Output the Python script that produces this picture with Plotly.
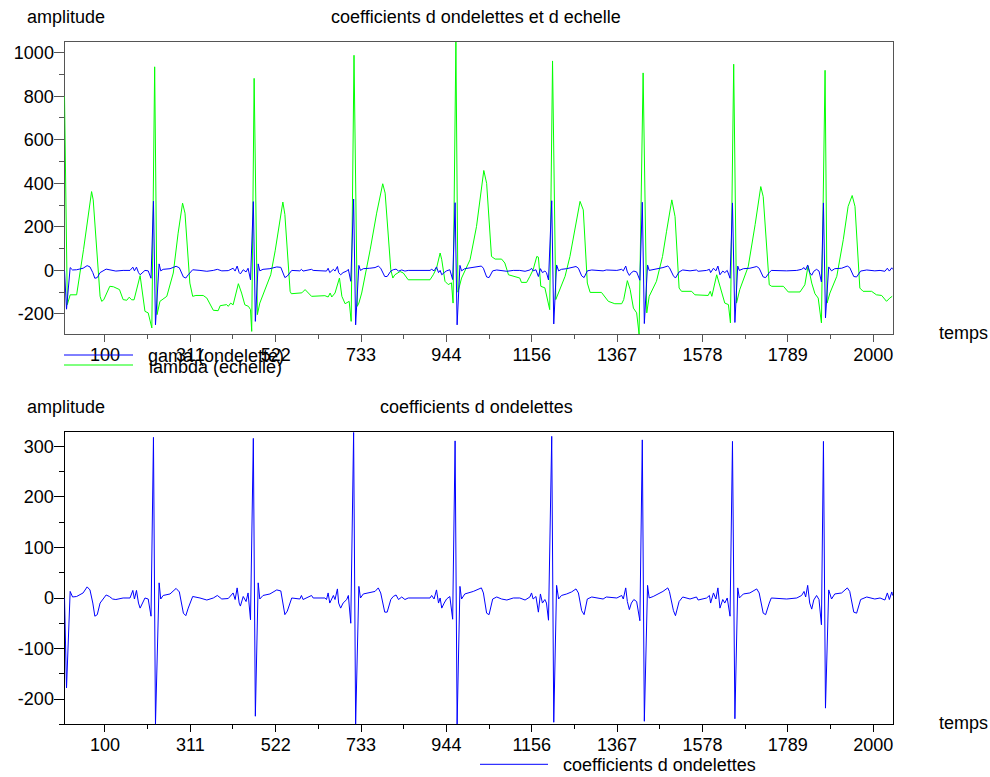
import plotly.graph_objects as go

# Wavelet (gama) coefficients: time samples and amplitudes
gama_t = [0, 5, 14, 20, 30, 46, 56, 63, 70, 75, 81, 88, 103, 111, 119, 127, 145, 162, 169, 173,
          178, 183, 187, 193, 199, 207, 214, 220, 225, 234, 238, 244, 261, 276, 284, 294, 300, 306,
          317, 335, 352, 368, 378, 389, 405, 417, 422, 427, 432, 435, 442, 449, 454, 460, 467, 472,
          479, 483, 491, 508, 525, 535, 545, 551, 562, 582, 586, 590, 611, 615, 644, 648, 652, 656,
          665, 669, 675, 678, 683, 689, 698, 702, 708, 715, 720, 728, 732, 739, 755, 768, 776, 782,
          792, 798, 807, 813, 820, 826, 834, 842, 850, 904, 908, 914, 920, 925, 929, 933, 939, 945,
          953, 960, 966, 971, 978, 982, 990, 1011, 1031, 1036, 1044, 1050, 1059, 1069, 1081, 1094,
          1110, 1126, 1139, 1151, 1155, 1159, 1166, 1172, 1177, 1182, 1188, 1192, 1197, 1205, 1210,
          1217, 1222, 1229, 1242, 1254, 1265, 1271, 1279, 1285, 1293, 1304, 1332, 1340, 1366, 1378,
          1382, 1388, 1392, 1397, 1402, 1408, 1415, 1423, 1429, 1434, 1442, 1446, 1456, 1468, 1480,
          1492, 1496, 1506, 1511, 1520, 1529, 1547, 1563, 1567, 1588, 1595, 1598, 1605, 1611, 1616,
          1621, 1628, 1633, 1639, 1646, 1652, 1658, 1665, 1669, 1679, 1695, 1712, 1718, 1728, 1734,
          1743, 1748, 1786, 1811, 1823, 1829, 1833, 1838, 1843, 1848, 1853, 1860, 1866, 1872, 1877,
          1882, 1890, 1897, 1905, 1922, 1936, 1942, 1952, 1959, 1969, 1984, 2004, 2017, 2029, 2035,
          2040, 2046, 2048]
gama_v = [0, -178, 13, 2, 3, 10, 22, 16, -10, -36, -33, -10, 6, 3, -2, -3, 0, 0, 15, -2,
          15, -10, -20, -10, 0, -2, -36, 318, -250, 30, -2, 5, 8, 19, 12, -30, -35, -20,
          3, 0, -4, 0, 5, -2, -1, 10, -3, 20, -10, -16, 3, -7, 10, -43, 316, -234,
          30, -2, 5, 8, 16, 14, -33, -26, 0, -2, 5, -3, 5, 0, 0, -3, 10, -10,
          5, -3, 18, -10, -20, -10, -3, 5, -50, 328, -250, 23, 0, 8, 10, 13, 20, 10,
          -28, -28, -3, 3, 6, -3, 2, -3, 0, 0, 5, -2, 16, -10, 0, -20, -10, -2,
          3, -42, 311, -250, 23, -2, 8, 13, 20, 10, -30, -33, -2, 2, -2, -4,
          0, 0, -4, 2, 10, -2, 3, -28, 8, -10, -3, -10, -44, 320, -246,
          25, -2, 5, 8, 12, 18, 10, -25, -33, -2, 2, -2, 2, 0, 5,
          -2, 20, -7, -23, -10, -3, -7, -45, 313, -244, 25, 0, 3, 8, 13,
          20, 13, -25, -35, -7, 2, -2, 2, -4, 0, 5, -10, 10, -2, 20,
          -20, -3, -10, 0, -36, 310, -239, 20, 0, 8, 10, 18, 10, -30, -33,
          -10, 0, -2, 0, 5, 13, 2, 25, -10, -22, -4, 5, -3, -53, 310,
          -218, 16, -2, 8, 10, 20, 13, -28, -30, -3, 2, -2, 0, -4, 10,
          -3, 12, 5]

# Scale (lambda) coefficients: time samples and amplitudes
lambda_t = [0, 7, 14, 30, 47, 67, 71, 88, 92, 97, 112, 121, 136, 145, 154, 160, 166, 172, 187, 199,
            207, 216, 223, 229, 236, 253, 269, 281, 292, 298, 310, 317, 325, 343, 352, 368, 380, 385,
            401, 405, 411, 417, 430, 438, 446, 455, 460, 463, 469, 477, 483, 500, 510, 521, 540, 545,
            558, 561, 587, 595, 611, 644, 652, 657, 661, 669, 680, 686, 694, 704, 709, 716, 724, 728,
            735, 756, 772, 787, 793, 807, 812, 817, 830, 838, 850, 904, 912, 920, 929, 933, 941, 949,
            957, 961, 968, 973, 982, 1003, 1019, 1037, 1044, 1056, 1065, 1081, 1089, 1098, 1110, 1126,
            1130, 1143, 1151, 1159, 1168, 1172, 1178, 1188, 1200, 1207, 1215, 1221, 1238, 1250, 1262,
            1275, 1283, 1293, 1300, 1328, 1345, 1361, 1378, 1383, 1392, 1399, 1407, 1415, 1421, 1431,
            1440, 1446, 1464, 1479, 1489, 1502, 1510, 1520, 1526, 1551, 1559, 1592, 1597, 1601, 1613,
            1621, 1633, 1642, 1647, 1655, 1662, 1670, 1691, 1708, 1722, 1728, 1743, 1749, 1778, 1790,
            1819, 1831, 1839, 1848, 1856, 1864, 1872, 1881, 1886, 1893, 1910, 1926, 1938, 1948, 1955,
            1967, 1975, 1996, 2008, 2021, 2033, 2041, 2047]
lambda_v = [800, -157, -112, -112, 95, 362, 324, -119, -142, -135, -73, -75, -88, -134, -137, -123, -135, -135, -24, -188,
            -195, -264, 935, -203, -142, -119, -12, 171, 309, 263, -58, -119, -115, -115, -127, -183, -185, -162,
            -157, -165, -150, -158, -61, -104, -158, -165, -180, -280, 882, -203, -150, -73, -20, 90, 314, 257,
            -96, -107, -103, -88, -119, -116, -122, -104, -122, -104, -35, -119, -153, -142, -234, 988, -165, -150,
            -104, 95, 263, 398, 355, 3, -35, -20, -5, -12, -43, -43, -20, 10, 80, 49, -50, -65,
            -57, -150, 1049, -100, -35, 49, 202, 459, 400, 64, 52, 52, 34, -20, -27, -35,
            -55, -55, -27, 3, 64, 61, -73, -80, -180, 962, -134, -104, -27, 64, 187,
            317, 278, -58, -101, -101, -142, -153, -153, -134, -47, -88, -173, -195, -292, 907,
            -195, -119, -50, 64, 180, 324, 247, -81, -96, -96, -112, -115, -96, -119, -20,
            -73, -150, -157, -241, 947, -150, -88, 18, 210, 385, 339, -66, -73, -73, -99,
            -99, -66, 21, -58, -107, -127, -241, 919, -150, -104, -27, 141, 294, 344, 294,
            -81, -96, -96, -112, -115, -142, -127, -119]

time_tick_labels = ["100", "311", "522", "733", "944", "1156", "1367", "1578", "1789", "2000"]
top_amp_ticks = [-200, 0, 200, 400, 600, 800, 1000]
bottom_amp_ticks = [-200, -100, 0, 100, 200, 300]

W, H = 990, 777
FONT = "Liberation Sans, Arial, sans-serif"
FS = 18
BLUE = "#0000ff"
GREEN = "#00ff00"


def fx(p):
    return p / W


def fy(p):
    return 1 - p / H


# time ticks sit evenly between the first and last label
t0, t1 = float(time_tick_labels[0]), float(time_tick_labels[-1])
step = (t1 - t0) / (len(time_tick_labels) - 1)
time_tickvals = [t0 + i * step for i in range(len(time_tick_labels))]
time_minor = [v + step / 2 for v in time_tickvals[:-1]]

fig = go.Figure()
fig.add_trace(go.Scatter(x=lambda_t, y=lambda_v, mode="lines", line=dict(color=GREEN, width=1),
                         xaxis="x", yaxis="y", showlegend=False))
fig.add_trace(go.Scatter(x=gama_t, y=gama_v, mode="lines", line=dict(color=BLUE, width=1),
                         xaxis="x", yaxis="y", showlegend=False))
fig.add_trace(go.Scatter(x=gama_t, y=gama_v, mode="lines", line=dict(color=BLUE, width=1),
                         xaxis="x2", yaxis="y2", showlegend=False))


def x_axis(anchor, color):
    return dict(domain=[fx(64.5), fx(893)], range=[0, 2049], anchor=anchor,
                tickmode="array", tickvals=time_tickvals, ticktext=time_tick_labels,
                ticks="outside", ticklen=7, tickwidth=1, tickcolor=color,
                ticklabelstandoff=-3,
                minor=dict(tickmode="array", tickvals=time_minor, ticks="outside",
                           ticklen=4, tickcolor=color, showgrid=False),
                showline=True, linecolor=color, linewidth=1, mirror=True,
                showgrid=False, zeroline=False, automargin=False, layer="below traces",
                tickfont=dict(family=FONT, size=FS, color="black"))


def y_axis(anchor, dom, rng, ticks, minor_step, color):
    return dict(domain=dom, range=rng, anchor=anchor,
                tickmode="array", tickvals=ticks, ticktext=[str(v) for v in ticks],
                ticks="outside", ticklen=10, tickwidth=1, tickcolor=color,
                ticklabelstandoff=-4,
                minor=dict(dtick=minor_step, tick0=0, ticks="outside", ticklen=5,
                           tickcolor=color, showgrid=False),
                showline=True, linecolor=color, linewidth=1, mirror=True,
                showgrid=False, zeroline=False, automargin=False, layer="below traces",
                tickfont=dict(family=FONT, size=FS, color="black"))


fig.update_layout(
    width=W, height=H,
    margin=dict(l=0, r=0, t=0, b=0),
    paper_bgcolor="white", plot_bgcolor="white",
    xaxis=x_axis("y", "#555555"),
    yaxis=y_axis("x", [fy(334), fy(42)], [-292, 1049], top_amp_ticks, 100, "#555555"),
    xaxis2=x_axis("y2", "black"),
    yaxis2=y_axis("x2", [fy(724.3), fy(432.3)], [-250, 328], bottom_amp_ticks, 50, "black"),
    showlegend=False,
)


def label(text, x, y, anchor="left"):
    fig.add_annotation(text=text, x=fx(x), y=fy(y), xref="paper", yref="paper",
                       xanchor=anchor, yanchor="middle", showarrow=False,
                       font=dict(family=FONT, size=FS, color="black"))


label("amplitude", 25, 16.7)
label("coefficients d ondelettes et d echelle", 476, 16.7, "center")
label("temps", 937, 333)
label("amplitude", 25, 406.7)
label("coefficients d ondelettes", 476, 406.7, "center")
label("temps", 937, 723)

# legend keys
for (x0, x1, y, c) in [(64, 133, 355, BLUE), (64, 133, 365, GREEN), (480, 548, 764.3, BLUE)]:
    fig.add_shape(type="line", xref="paper", yref="paper", x0=fx(x0), x1=fx(x1),
                  y0=fy(y), y1=fy(y), line=dict(color=c, width=1))
label("gama (ondelette)", 146, 356)
label("lambda (echelle)", 147, 367)
label("coefficients d ondelettes", 561, 764.5)

fig.write_html("out.html")
